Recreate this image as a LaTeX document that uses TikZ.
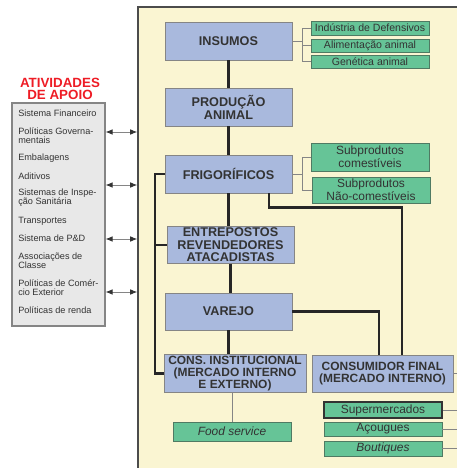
\documentclass[tikz,border=0pt]{standalone}
\usepackage{fontspec}
\setmainfont{Liberation Sans}
\usetikzlibrary{arrows.meta, positioning, calc}
\definecolor{panelcream}{HTML}{FAF5D2}
\definecolor{boxblue}{HTML}{A9B9DD}
\definecolor{boxgreen}{HTML}{66C497}
\definecolor{greenedge}{HTML}{4F7A63}
\definecolor{apoiogray}{HTML}{E8E8E8}
\definecolor{edgegray}{HTML}{858585}
\definecolor{textgray}{HTML}{333333}
\definecolor{apoiored}{HTML}{EE1C25}
\tikzset{
  elo/.style={
    rectangle, draw=edgegray, fill=boxblue, line width=0.6pt,
    align=center, text=textgray, inner sep=1pt,
    minimum width=3.175cm, minimum height=0.95cm,
    font=\fontsize{9}{9.4}\selectfont\bfseries
  },
  subbox/.style={
    rectangle, draw=#1, fill=boxgreen, line width=0.6pt,
    align=center, text=textgray, inner sep=0pt,
    minimum width=2.95cm,
    font=\fontsize{8.5}{9}\selectfont
  },
  item/.style={
    anchor=west, align=left, inner sep=0pt, text=textgray,
    font=\fontsize{6.5}{6.6}\selectfont
  },
  cadeia/.style={line width=1.6pt, draw=black!85},
  ramo/.style={line width=0.5pt, draw=edgegray},
  apoioarrow/.style={
    {Latex[length=5pt,width=4pt,color=black!80]}-{Latex[length=5pt,width=4pt,color=black!80]},
    line width=0.6pt, draw=edgegray
  }
}
\begin{document}
\begin{tikzpicture}[x=0.025cm, y=-0.025cm]
  \useasboundingbox (0,0) rectangle (456,468);
  % Painel da cadeia
  \node[rectangle, draw=black!70, fill=panelcream, line width=1pt,
        minimum width=8.3cm, minimum height=11.825cm] (painel) at (304,243.5) {};
  \coordinate (spine) at (155,0);
  \coordinate (borda) at (470,0);

  % Elos principais
  \node[elo] (insumos) at (228.5,41) {INSUMOS};
  \node[elo] (producao) at (228.5,107) {PRODUÇÃO\\ANIMAL};
  \node[elo] (frigorificos) at (228.5,174) {FRIGORÍFICOS};
  \node[elo, minimum height=0.9cm, font=\fontsize{9}{8.8}\selectfont\bfseries]
    (entrepostos) at (230.5,245)
    {ENTREPOSTOS\\REVENDEDORES\\ATACADISTAS};
  \node[elo, minimum height=0.925cm] (varejo) at (228.5,311.5) {VAREJO};
  \node[elo, minimum width=3.55cm, minimum height=0.925cm,
        font=\fontsize{8.5}{8.6}\selectfont\bfseries] (consinst) at (235,373.5)
    {CONS. INSTITUCIONAL\\(MERCADO INTERNO\\E EXTERNO)};
  \node[elo, minimum width=3.525cm, minimum height=0.925cm,
        font=\fontsize{8.5}{8.8}\selectfont\bfseries] (consfinal) at (382.5,373.5)
    {CONSUMIDOR FINAL\\(MERCADO INTERNO)};

  % Ramos verdes
  \node[subbox=greenedge, minimum height=0.35cm,
        font=\fontsize{7.5}{7.5}\selectfont] (defensivos) at (370,28)
    {Indústria de Defensivos};
  \node[subbox=greenedge, minimum height=0.325cm,
        font=\fontsize{7.5}{7.5}\selectfont] (alimentacao) at (370,45.5)
    {Alimentação animal};
  \node[subbox=greenedge, minimum height=0.325cm,
        font=\fontsize{7.5}{7.5}\selectfont] (genetica) at (370,61.5)
    {Genética animal};
  \node[subbox=greenedge, minimum height=0.7cm] (subcom) at (370,157)
    {Subprodutos\\comestíveis};
  \node[subbox=greenedge, minimum height=0.65cm] (subnaocom) at (371,190)
    {Subprodutos\\Não-comestíveis};
  \node[subbox=greenedge, minimum height=0.475cm] (food) at (232,431.5)
    {\itshape Food service};
  \node[subbox=black!80, line width=1pt, minimum height=0.4cm] (super) at (383,410)
    {Supermercados};
  \node[subbox=greenedge, minimum height=0.35cm] (acougues) at (383,429)
    {Açougues};
  \node[subbox=greenedge, minimum height=0.375cm] (boutiques) at (383,448.5)
    {\itshape Boutiques};

  % Cadeia principal
  \draw[cadeia] (insumos.south) -- (producao.north);
  \draw[cadeia] (producao.south) -- (frigorificos.north);
  \draw[cadeia] (frigorificos.south) -- (frigorificos.south |- entrepostos.north);
  \draw[cadeia] (entrepostos.south) -- (entrepostos.south |- varejo.north);
  \draw[cadeia] (varejo.south) -- (varejo.south |- consinst.north);
  \draw[cadeia] (frigorificos.west) -| (spine |- consinst.west) -- (consinst.west);
  \draw[cadeia] (entrepostos.west) -- (entrepostos.west -| spine);
  \draw[cadeia] ([xshift=1.01cm]frigorificos.south) -- ++(0,14)
    -| ([xshift=0.49cm]consfinal.north);
  \draw[cadeia] (varejo.east) -| ([xshift=-0.09cm]consfinal.north);

  % Ramificacoes
  \draw[ramo] (insumos.east) -- ++(10,0) coordinate (b1);
  \draw[ramo] (b1) |- (defensivos.west);
  \draw[ramo] (b1) |- (alimentacao.west);
  \draw[ramo] (b1) |- (genetica.west);
  \draw[ramo] (frigorificos.east) -- ++(10,0) coordinate (b2);
  \draw[ramo] (b2) |- (subcom.west);
  \draw[ramo] (b2) |- (subnaocom.west);
  \draw[ramo] (consinst.south -| food.north) -- (food.north);
  \draw[ramo] (consfinal.east) -- (consfinal.east -| borda);
  \draw[ramo] (super.east) -- (super.east -| borda);
  \draw[ramo] (acougues.east) -- (acougues.east -| borda);
  \draw[ramo] (boutiques.east) -- (boutiques.east -| borda);

  % Atividades de apoio
  \node[font=\fontsize{9.5}{8.9}\selectfont\bfseries, text=apoiored,
        align=center] (titulo) at (60,89) {ATIVIDADES\\DE APOIO};
  \node[rectangle, draw=edgegray, fill=apoiogray, line width=0.8pt,
        minimum width=2.325cm, minimum height=5.575cm] (apoio) at (58.5,214.5) {};
  \node[item] (financeiro) at (18,113.3) {Sistema Financeiro};
  \node[item] (governo) at (18,135.5) {Políticas Governa-\\mentais};
  \node[item] (embalagens) at (18,158) {Embalagens};
  \node[item] (aditivos) at (18,176) {Aditivos};
  \node[item] (inspecao) at (18,198) {Sistemas de Inspe-\\ção Sanitária};
  \node[item] (transportes) at (18,221) {Transportes};
  \node[item] (ped) at (18,238.5) {Sistema de P\&D};
  \node[item] (associacoes) at (18,261) {Associações de\\Classe};
  \node[item] (comercio) at (18,287.5) {Políticas de Comér-\\cio Exterior};
  \node[item] (renda) at (18,310) {Políticas de renda};
  \foreach \y in {132,185,239,292}
    \draw[apoioarrow] (apoio.east |- 0,\y) -- (painel.west |- 0,\y);
\end{tikzpicture}
\end{document}
